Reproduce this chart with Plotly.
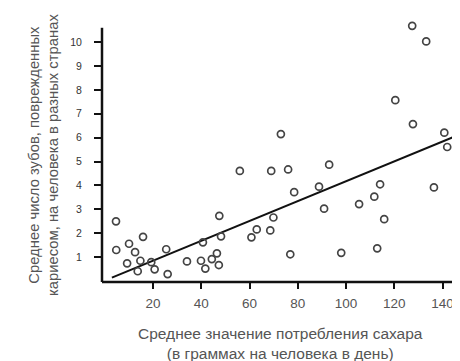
import plotly.graph_objects as go

sugar = [4.7, 4.8, 10.1, 9.3, 12.6, 15.9, 14.8, 13.7, 19.3, 20.7, 25.5, 26.1, 34.1, 39.9, 40.7,
         41.7, 44.4, 46.5, 47.5, 48.2, 47.3, 56.0, 60.8, 63.0, 68.6, 69.0, 69.9, 73.0, 76.0,
         76.9, 78.5, 88.8, 90.9, 93.0, 98.0, 105.4, 111.7, 112.9, 114.1, 115.8, 120.4, 127.4,
         127.7, 133.2, 136.4, 140.7, 141.9]
teeth = [2.50, 1.30, 1.56, 0.74, 1.21, 1.85, 0.85, 0.41, 0.79, 0.49, 1.33, 0.29, 0.82, 0.85, 1.62,
         0.52, 0.92, 1.16, 2.73, 1.87, 0.67, 4.61, 1.83, 2.16, 2.12, 4.61, 2.66, 6.15, 4.67,
         1.12, 3.72, 3.95, 3.03, 4.87, 1.18, 3.22, 3.53, 1.37, 4.05, 2.59, 7.57, 10.68,
         6.57, 10.03, 3.92, 6.21, 5.61]
fit_x = [3.0, 146.5]
fit_y = [0.14, 6.11]
x_ticks = [20, 40, 60, 80, 100, 120, 140]
y_ticks = [1, 2, 3, 4, 5, 6, 7, 8, 9, 10]
y_axis_top = 10.6

# the page body adds an 8px margin; size the figure so it ends at the window edge
OFF = 8
W, H = 460 - OFF, 361 - OFF
L = 102 - OFF
T = 23 - OFF
B = H - (282 - OFF)
R = 0
pw = W - L - R
ph = H - T - B

fig = go.Figure()
fig.add_trace(go.Scatter(x=fit_x, y=fit_y, mode="lines",
                         line=dict(color="#111111", width=2), cliponaxis=False, hoverinfo="skip"))
fig.add_trace(go.Scatter(x=sugar, y=teeth, mode="markers", cliponaxis=False,
                         marker=dict(symbol="circle-open", size=7, color="#444444",
                                     line=dict(width=1.7, color="#444444"))))

fig.update_layout(
    width=W, height=H, showlegend=False,
    margin=dict(l=L, r=R, t=T, b=B, pad=0),
    paper_bgcolor="white", plot_bgcolor="white",
    font=dict(family="Liberation Sans, Arial, sans-serif", color="#444444"),
    xaxis=dict(range=[-1.1, 147.2], tickvals=x_ticks, ticks="outside", ticklen=6, tickwidth=2,
               tickcolor="#111111", showline=False, showgrid=False, zeroline=False,
               ticklabelstandoff=3,
               tickfont=dict(size=13.5, color="#555555")),
    yaxis=dict(range=[-0.04, 10.8], tickvals=y_ticks, ticks="outside", ticklen=7, tickwidth=2,
               tickcolor="#111111", showline=False, showgrid=False, zeroline=False,
               ticklabelstandoff=10,
               tickfont=dict(size=10.5, color="#333333")),
)

# axis lines
fig.add_shape(type="line", xref="paper", yref="y", x0=0, x1=0, y0=-0.04, y1=y_axis_top,
              line=dict(color="#111111", width=2.5))
fig.add_shape(type="line", xref="paper", yref="paper", x0=0, x1=1, y0=0, y1=0,
              line=dict(color="#111111", width=2.5))

fig.add_annotation(text="Среднее значение потребления сахара<br>(в граммах на человека в день)",
                   xref="paper", yref="paper", x=(280 - OFF - L) / pw, y=(H - B - (343 - OFF)) / ph,
                   showarrow=False, xanchor="center", yanchor="middle",
                   font=dict(size=15.5, color="#555555"))
fig.add_annotation(text="Среднее число зубов, поврежденных<br>кариесом, на человека в разных странах",
                   xref="paper", yref="paper", x=(43 - OFF - L) / pw, y=(H - B - (155 - OFF)) / ph,
                   textangle=-90, showarrow=False, xanchor="center", yanchor="middle",
                   font=dict(size=14.8, color="#555555"))

fig.write_html("out.html")
